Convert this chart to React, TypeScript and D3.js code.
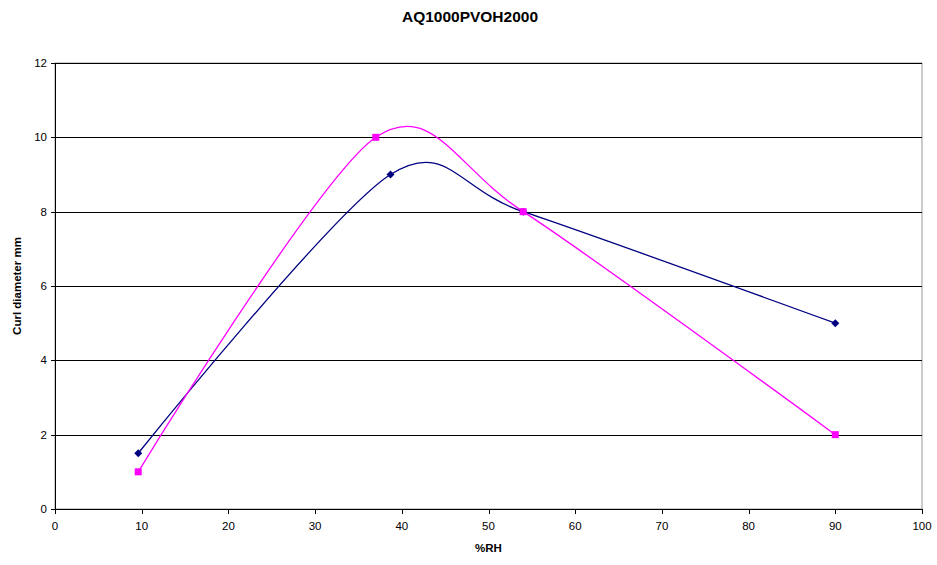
import React from "react";
import * as d3 from "d3";

const TITLE = "AQ1000PVOH2000";
const X_LABEL = "%RH";
const Y_LABEL = "Curl diameter mm";
const xTicks = [0, 10, 20, 30, 40, 50, 60, 70, 80, 90, 100];
const yTicks = [0, 2, 4, 6, 8, 10, 12];
const navyX = [9.6, 38.7, 54, 90];
const navyY = [1.5, 9, 8, 5];
const pinkX = [9.6, 37, 54, 90];
const pinkY = [1, 10, 8, 2];

const W = 937, H = 565;
const L = 55, R = 922, T = 63, B = 509;

export default function App() {
  const x = d3.scaleLinear().domain([0, 100]).range([L, R]);
  const y = d3.scaleLinear().domain([0, 12]).range([B, T]);
  const line = d3
    .line<[number, number]>()
    .x((d) => x(d[0]))
    .y((d) => y(d[1]))
    .curve(d3.curveCardinal.tension(0.12));
  const navy = navyX.map((v, i) => [v, navyY[i]] as [number, number]);
  const pink = pinkX.map((v, i) => [v, pinkY[i]] as [number, number]);
  const font = "'Liberation Sans', Arial, sans-serif";
  return (
    <svg width={W} height={H} style={{ position: "absolute", left: 0, top: 0, background: "#fff" }} fontFamily={font}>
      <rect x={0} y={0} width={W} height={H} fill="#fff" />
      <text x={470} y={22} textAnchor="middle" fontSize={14} fontWeight="bold" textLength={136} lengthAdjust="spacingAndGlyphs">{TITLE}</text>
      <rect x={L} y={T} width={R - L} height={B - T} fill="none" stroke="#999" strokeWidth={1} />
      {yTicks.filter((t) => t > 0).map((t) => (
        <line key={"g" + t} x1={L} x2={R} y1={Math.round(y(t)) + 0.5} y2={Math.round(y(t)) + 0.5} stroke="#000" strokeWidth={1} />
      ))}
      <line x1={L + 0.5} x2={L + 0.5} y1={T} y2={B} stroke="#000" />
      <line x1={L} x2={R} y1={B + 0.5} y2={B + 0.5} stroke="#000" />
      {yTicks.map((t) => (
        <g key={"y" + t}>
          <line x1={L - 4} x2={L} y1={Math.round(y(t)) + 0.5} y2={Math.round(y(t)) + 0.5} stroke="#000" />
          <text x={L - 8} y={y(t) + 4} textAnchor="end" fontSize={11.5}>{t}</text>
        </g>
      ))}
      {xTicks.map((t) => (
        <g key={"x" + t}>
          <line x1={Math.round(x(t)) + 0.5} x2={Math.round(x(t)) + 0.5} y1={B} y2={B + 5} stroke="#000" />
          <text x={x(t)} y={B + 21} textAnchor="middle" fontSize={11.5}>{t}</text>
        </g>
      ))}
      <text x={(L + R) / 2} y={552} textAnchor="middle" fontSize={11.5} fontWeight="bold">{X_LABEL}</text>
      <text transform={`translate(21,${(T + B) / 2}) rotate(-90)`} textAnchor="middle" fontSize={11.5} fontWeight="bold">{Y_LABEL}</text>
      <path d={line(navy) || ""} fill="none" stroke="#000080" strokeWidth={1.3} />
      <path d={line(pink) || ""} fill="none" stroke="#ff00ff" strokeWidth={1.3} />
      {navy.map((d, i) => (
        <path key={"n" + i} d="M0,-4L4,0L0,4L-4,0Z" transform={`translate(${x(d[0])},${y(d[1])})`} fill="#000080" />
      ))}
      {pink.map((d, i) => (
        <rect key={"p" + i} x={x(d[0]) - 3.5} y={y(d[1]) - 3.5} width={7} height={7} fill="#ff00ff" />
      ))}
    </svg>
  );
}
